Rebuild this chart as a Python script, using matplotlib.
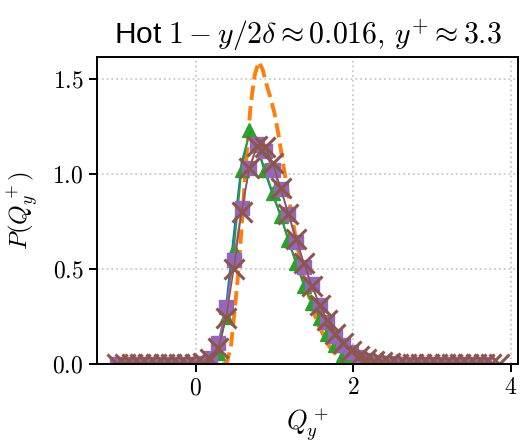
import numpy as np
import matplotlib
matplotlib.use("Agg")
import matplotlib.pyplot as plt
from matplotlib.ticker import FuncFormatter

plt.rcParams['mathtext.fontset'] = 'cm'
plt.rcParams['font.family'] = ['Liberation Sans', 'DejaVu Sans']

# bin centres of the histograms (50 regular bins)
q_grid = np.linspace(-1.0, 3.85, 50)

# brown crosses (full range)
p_brown = [0, 0, 0, 0, 0, 0, 0, 0, 0, 0, 0, 0.005, 0.025, 0.085, 0.24, 0.50, 0.80,
           1.03, 1.145, 1.14, 1.055, 0.925, 0.79, 0.66, 0.53, 0.41, 0.31, 0.23,
           0.16, 0.11, 0.07, 0.045, 0.028, 0.017, 0.01, 0.006, 0.003,
           0, 0, 0, 0, 0, 0, 0, 0, 0, 0, 0, 0, 0]
# purple squares (grid points 0..47)
p_purple = [0, 0, 0, 0, 0, 0, 0, 0, 0, 0, 0, 0.008, 0.03, 0.11, 0.30, 0.55, 0.82,
            1.03, 1.16, 1.12, 1.02, 0.92, 0.79, 0.64, 0.51, 0.42, 0.31, 0.22,
            0.15, 0.10, 0.065, 0.035, 0.02, 0.012, 0.007, 0.004,
            0, 0, 0, 0, 0, 0, 0, 0, 0, 0, 0, 0]
# green triangles (grid points 12..30)
p_green = [0.01, 0.06, 0.25, 0.60, 1.02, 1.23, 1.15, 1.02, 0.90, 0.78, 0.65,
           0.53, 0.41, 0.32, 0.24, 0.16, 0.10, 0.05, 0.02]
# blue line (grid points 12..30)
p_blue = [0.01, 0.08, 0.30, 0.68, 1.06, 1.21, 1.14, 1.01, 0.89, 0.78, 0.65,
          0.53, 0.42, 0.32, 0.24, 0.16, 0.10, 0.05, 0.02]
# orange dashed curve
q_orange = [0.35, 0.40, 0.45, 0.50, 0.55, 0.60, 0.65, 0.70, 0.75, 0.80, 0.85,
            0.90, 0.95, 1.00, 1.05, 1.10, 1.15, 1.20, 1.25, 1.30, 1.35, 1.40,
            1.45, 1.50, 1.55, 1.60, 1.65, 1.70, 1.75, 1.80, 1.85, 1.90, 1.95, 2.00]
p_orange = [0.0, 0.01, 0.10, 0.30, 0.52, 0.82, 1.12, 1.37, 1.52, 1.59, 1.55,
            1.47, 1.40, 1.32, 1.21, 1.08, 0.95, 0.83, 0.71, 0.60, 0.50, 0.41,
            0.34, 0.27, 0.21, 0.17, 0.13, 0.09, 0.065, 0.045, 0.03, 0.02, 0.01, 0.005]

x_ticks = [0, 2, 4]
y_ticks = [0.0, 0.5, 1.0, 1.5]

fig = plt.figure(figsize=(5.26, 4.44), dpi=100)
ax = fig.add_axes([0.184, 0.18, 0.801, 0.692])

ax.plot(q_grid[12:31], p_blue, color='C0', lw=1.5)
ax.plot(q_orange, p_orange, color='C1', lw=2.8, ls='--')
ax.plot(q_grid[12:31], p_green, color='C2', lw=1.2, marker='^', ms=10.5)
ax.plot(q_grid[:48], p_purple, color='C4', lw=1.2, marker='s', ms=9.5)
ax.plot(q_grid, p_brown, color='C5', lw=1.1, marker='x', ms=14, mew=2.2)

ax.set_xlim(-1.253, 4.09)
ax.set_ylim(0, 1.616)
ax.set_xticks(x_ticks)
ax.set_yticks(y_ticks)
ax.xaxis.set_major_formatter(FuncFormatter(lambda v, p: f"${v:.0f}$"))
ax.yaxis.set_major_formatter(FuncFormatter(lambda v, p: f"${v:.1f}$"))
ax.tick_params(labelsize=17, length=6, width=1.4)
for s in ax.spines.values():
    s.set_linewidth(1.4)
ax.grid(True, ls=':', color='#c8c8c8', lw=1.3)
ax.set_axisbelow(True)

ax.set_xlabel(r'$Q_y^+$', fontsize=19, labelpad=5)
ax.set_ylabel(r'$P(Q_y^+)$', fontsize=18, labelpad=8)
ax.set_title(r'Hot $1-y/2\delta\approx 0.016,\, y^{+}\approx 3.3$', fontsize=21.5, pad=9)

fig.savefig('out.png', dpi=100)
